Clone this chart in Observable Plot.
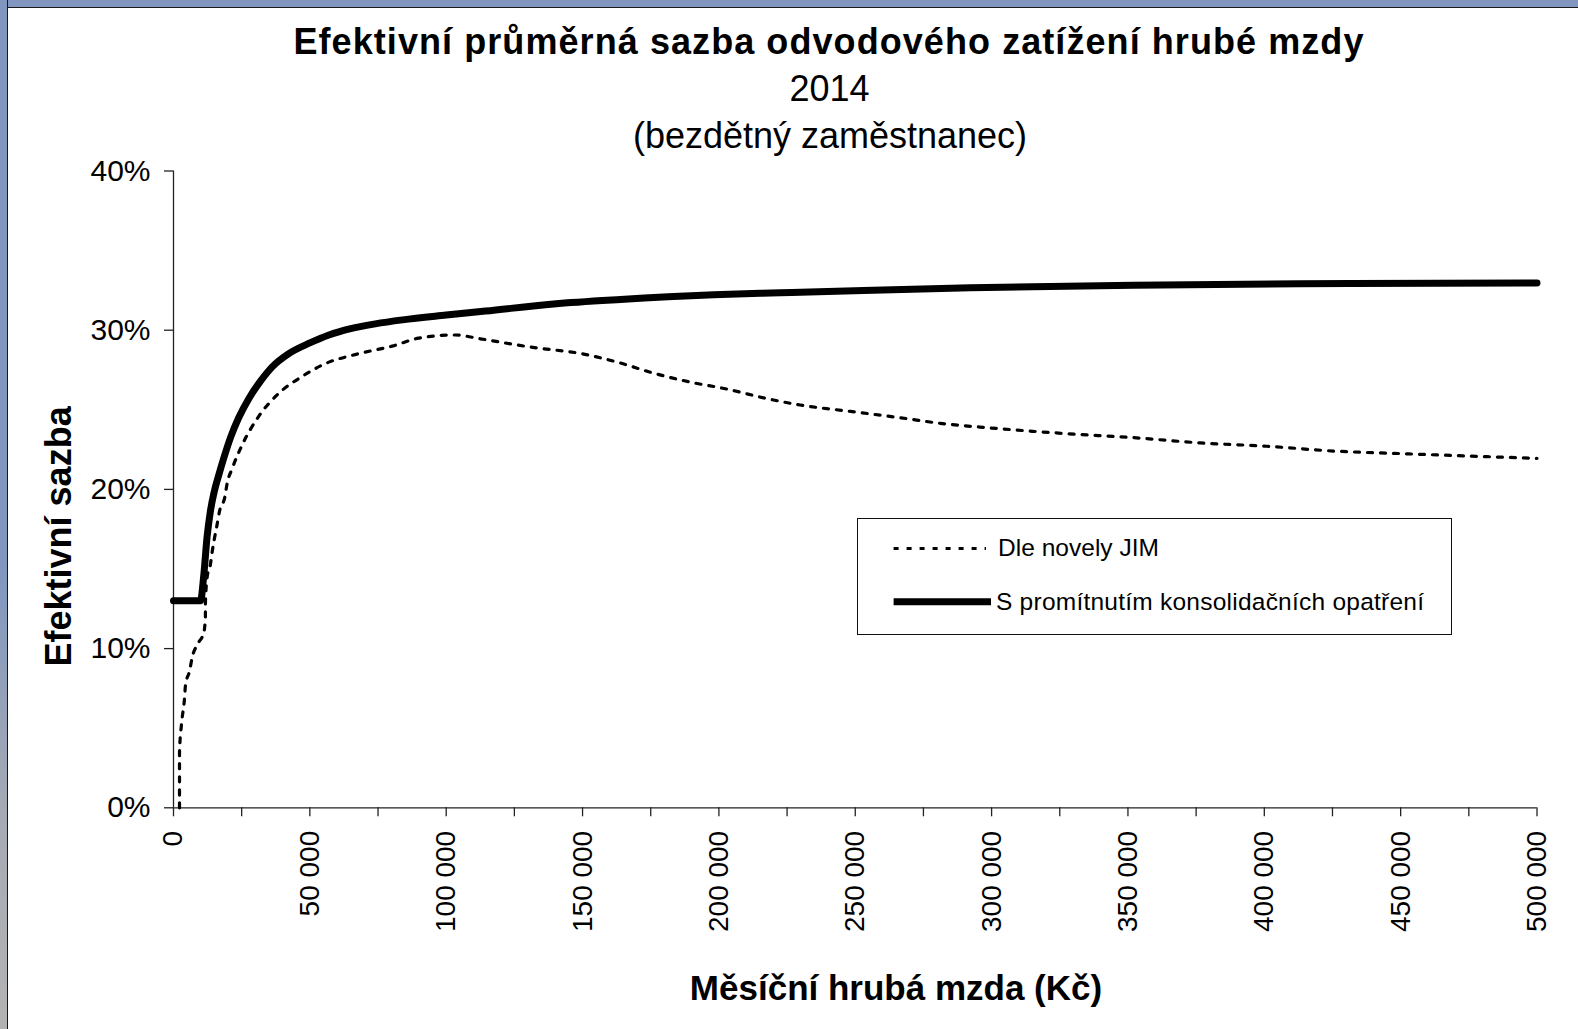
<!DOCTYPE html>
<html><head><meta charset="utf-8">
<script src="https://cdn.jsdelivr.net/npm/d3@7"></script>
<script src="https://cdn.jsdelivr.net/npm/@observablehq/plot@0.6"></script>
<style>
html,body{margin:0;padding:0;background:#fff;}
#page{position:relative;width:1578px;height:1029px;overflow:hidden;background:#fff;font-family:"Liberation Sans",Arial,sans-serif;color:#000;}
#topbar{position:absolute;left:0;top:0;width:1578px;height:6.5px;background:#8197bf;border-bottom:1.5px solid #1a1a1a;z-index:3;}
#leftbar{position:absolute;left:0;top:0;width:7px;height:1029px;background:linear-gradient(#8197bf 0%,#8197bf 55%,#a4a9b4 78%,#b3b3b3 100%);border-right:1.5px solid #1a1a1a;z-index:3;}
.t{position:absolute;white-space:nowrap;line-height:1;}
#chart{position:absolute;left:0;top:0;}
#legend{position:absolute;left:857px;top:518px;width:595px;height:117px;box-sizing:border-box;border:1.3px solid #111;background:#fff;}
#legsvg{position:absolute;left:0;top:0;}
</style>
</head><body>
<div id="page">
  <div id="chart"></div>
  <div id="topbar"></div>
  <div id="leftbar"></div>
  <div class="t" id="title" style="font-weight:bold;font-size:36px;">Efektivní průměrná sazba odvodového zatížení hrubé mzdy</div>
  <div class="t" id="sub1" style="font-size:36px;">2014</div>
  <div class="t" id="sub2" style="font-size:36px;">(bezdětný zaměstnanec)</div>
  <div id="legend"></div>
  <svg id="legsvg" width="1578" height="1029" style="pointer-events:none"></svg>
  <div class="t" id="leg1" style="font-size:24.5px;">Dle novely JIM</div>
  <div class="t" id="leg2" style="font-size:24.5px;">S promítnutím konsolidačních opatření</div>
</div>
<script>
// ---- data ----
const seriesNames = ["Dle novely JIM", "S promítnutím konsolidačních opatření"];

// Dle novely JIM (dotted): monthly gross wage (Kč), effective rate (%)
const jimWage = [2200, 2200, 2900, 4000, 4400, 5900, 6850, 8900, 11100, 11700, 11700, 12350, 13550, 14200, 15100, 16000, 16900, 18800, 19700, 21500, 25200, 31300, 38400, 47200, 55700, 67300, 80200, 89900, 103400, 112500, 130900, 150400, 162600, 176100, 189500, 203000, 216400, 229800, 248200, 266500, 281200, 299500, 327600, 352000, 376500, 400900, 425300, 449800, 474200, 500000];
const jimRate = [0, 3.5, 5.2, 6.8, 7.7, 8.6, 9.45, 10.3, 11.0, 12.0, 12.8, 14.5, 15.3, 16.1, 17.0, 17.8, 18.65, 19.5, 20.4, 21.3, 22.8, 24.6, 26.0, 27.1, 27.9, 28.5, 29.0, 29.5, 29.7, 29.46, 28.94, 28.5, 28.0, 27.3, 26.74, 26.3, 25.75, 25.3, 24.9, 24.5, 24.15, 23.86, 23.5, 23.25, 22.92, 22.71, 22.41, 22.25, 22.1, 21.95];

// S promítnutím konsolidačních opatření (solid)
const konsWage = [0, 9900, 11100, 12300, 13500, 15000, 16600, 18500, 21000, 23900, 27600, 31900, 36200, 42000, 50000, 57000, 65000, 74000, 84000, 100000, 114400, 139400, 163900, 198100, 222500, 253000, 292200, 352000, 431400, 500000];
const konsRate = [13.0, 13.0, 14.6, 17.0, 18.6, 19.9, 20.9, 22.0, 23.3, 24.5, 25.7, 26.8, 27.7, 28.5, 29.2, 29.7, 30.1, 30.4, 30.65, 30.95, 31.2, 31.65, 31.93, 32.22, 32.35, 32.5, 32.66, 32.83, 32.93, 32.97];

const xTicks = d3.range(0, 500001, 25000);
const xLabelTicks = d3.range(0, 500001, 50000);
const yTicks = [0, 10, 20, 30, 40];
const xTitle = "Měsíční hrubá mzda (Kč)";
const yTitle = "Efektivní sazba";

// ---- build tables ----
const jim = jimWage.map((w, i) => ({wage: w, rate: jimRate[i]}));
const kons = konsWage.map((w, i) => ({wage: w, rate: konsRate[i]}));
const fmt = d => d3.format(",")(d).replace(/,/g, " ");

const FONT = "Liberation Sans, Arial, sans-serif";
const chart = Plot.plot({
  width: 1578, height: 1029,
  marginLeft: 173, marginRight: 41.5, marginTop: 170.5, marginBottom: 221.7,
  x: {domain: [0, 500000]},
  y: {domain: [0, 40]},
  style: {fontFamily: FONT, background: "transparent", color: "#000", overflow: "visible"},
  marks: [
    Plot.axisY({ticks: yTicks, tickFormat: d => d + "%", tickSize: 9, tickPadding: 14, fontSize: 30, label: null, stroke: "#222", strokeWidth: 1.3}),
    Plot.axisX({ticks: xTicks, tickFormat: d => xLabelTicks.includes(d) ? fmt(d) : "", tickRotate: -90, tickSize: 9, tickPadding: 14, fontSize: 28, label: null, stroke: "#222", strokeWidth: 1.3}),
    Plot.ruleX([0], {y1: 0, y2: 40, stroke: "#222", strokeWidth: 1.3}),
    Plot.ruleY([0], {x1: 0, x2: 500000, stroke: "#222", strokeWidth: 1.3}),
    Plot.line(jim, {x: "wage", y: "rate", stroke: "#000", strokeWidth: 3.2, strokeDasharray: "5,8", curve: "monotone-x"}),
    Plot.line(kons, {x: "wage", y: "rate", stroke: "#000", strokeWidth: 7, strokeLinejoin: "round", curve: "monotone-x"}),
    Plot.text([xTitle], {text: d => d, frameAnchor: "bottom", textAnchor: "middle", lineAnchor: "middle", dx: 40.75, dy: 180.7, fontSize: 35, fontWeight: "bold"}),
    Plot.text([yTitle], {text: d => d, frameAnchor: "left", textAnchor: "middle", lineAnchor: "middle", rotate: -90, dx: -114.5, dy: 47, fontSize: 36, fontWeight: "bold"})
  ]
});
document.getElementById("chart").appendChild(chart);

// ---- title/subtitle placement (centre x, baseline y, target width) ----
function fit(el, targetWidth) {
  const n = el.textContent.length;
  const w = el.getBoundingClientRect().width;
  el.style.letterSpacing = ((targetWidth - w) / (n - 1)) + "px";
}
function place(id, cx, baseline, targetWidth) {
  const el = document.getElementById(id);
  const fs = parseFloat(el.style.fontSize);
  if (targetWidth) fit(el, targetWidth);
  const w2 = el.getBoundingClientRect().width;
  el.style.left = (cx - w2 / 2) + "px";
  el.style.top = (baseline - 0.8465 * fs) + "px";
}
function placeLeft(id, x, baseline, targetWidth) {
  const el = document.getElementById(id);
  const fs = parseFloat(el.style.fontSize);
  if (targetWidth) fit(el, targetWidth);
  el.style.left = x + "px";
  el.style.top = (baseline - 0.8465 * fs) + "px";
}
place("title", 829, 54, 1070);
place("sub1", 829.5, 101.5);
place("sub2", 830, 148);
placeLeft("leg1", 998, 557, 161);
placeLeft("leg2", 996, 611, 428);

// ---- legend samples ----
const ls = d3.select("#legsvg");
ls.append("line").attr("x1", 893.6).attr("x2", 986).attr("y1", 548.5).attr("y2", 548.5)
  .attr("stroke", "#000").attr("stroke-width", 3.2).attr("stroke-dasharray", "5,8");
ls.append("line").attr("x1", 893.6).attr("x2", 991).attr("y1", 601.8).attr("y2", 601.8)
  .attr("stroke", "#000").attr("stroke-width", 7);
</script>
</body></html>
